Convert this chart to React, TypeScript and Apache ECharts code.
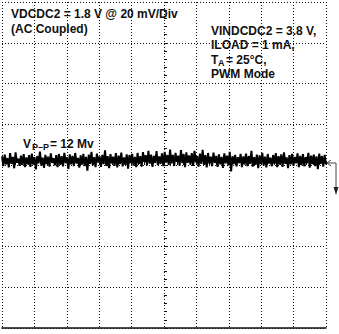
import React, { useEffect, useRef } from "react";
import * as echarts from "echarts";

// Oscilloscope trace: VDCDC2 ripple in mV (AC coupled), 240 samples across 10 divisions
const rippleMv: number[] = [
  4.2, -0.6, 5.1, 0.3, 3.4, -1.2, 5.8, 0.6, 4.0, -1.6, 6.2, 1.1, 3.1, -0.4, 4.6, 0.0, 5.3, -1.0, 3.7, 0.4,
  4.8, -0.9, 5.6, 0.2, 3.9, -2.2, 4.4, 0.8, 6.6, -0.3, 3.6, -1.4, 5.0, 0.5, 4.1, -0.8, 5.7, 1.0, 3.3, -0.2,
  4.9, -1.1, 5.4, 0.1, 4.3, -0.7, 6.0, 0.9, 3.8, -1.9, 5.2, 0.3, 4.5, -0.5, 5.9, 0.7, 3.5, -1.3, 4.7, 0.2,
  5.5, -0.6, 4.0, -2.8, 5.1, 0.6, 6.4, -0.2, 3.9, -1.0, 5.6, 1.2, 4.2, -0.9, 5.0, 0.4, 7.2, -0.5, 4.4, -1.5,
  5.3, 0.8, 4.1, -0.4, 5.8, -1.2, 4.6, 0.5, 6.1, -0.7, 3.7, 0.1, 5.2, -1.8, 4.9, 0.9, 5.5, -0.3, 4.0, -1.1,
  5.9, 0.6, 4.3, -0.8, 6.3, 1.4, 4.8, -0.2, 7.0, 0.7, 5.1, -0.9, 4.5, 1.0, 6.8, -0.1, 4.2, 0.5, 5.7, -0.6,
  6.5, 1.2, 4.9, 0.0, 7.6, 0.8, 5.0, -0.5, 6.0, 1.5, 4.6, -0.3, 7.3, 0.9, 5.4, -1.0, 6.2, 1.1, 4.7, 0.2,
  5.8, -0.4, 6.9, 1.3, 4.4, -0.8, 5.6, 0.6, 7.4, 0.1, 4.8, -1.2, 5.9, 0.7, 4.1, -0.6, 6.1, 1.0, 4.5, -0.9,
  5.2, 0.3, 4.0, -1.4, 5.7, 0.8, 4.6, -0.2, 6.5, -3.2, 4.3, 0.5, 5.0, -0.7, 3.8, 0.9, 5.5, -1.0, 4.2, 0.2,
  5.6, -0.5, 4.4, 0.6, 6.9, -0.8, 3.9, 0.1, 5.1, -1.6, 4.7, 0.4, 6.0, -0.3, 4.1, -1.2, 5.4, 0.7, 3.6, -0.6,
  4.9, 0.5, 5.8, -1.0, 4.3, 0.2, 5.2, -0.9, 6.2, 0.6, 3.7, -1.5, 4.8, 0.3, 5.5, -0.4, 4.0, 0.8, 5.7, -1.1,
  4.5, 0.0, 5.3, -0.7, 3.9, 0.9, 6.0, -1.3, 4.6, 0.4, 5.1, -0.5, 4.2, -2.0, 5.6, 0.6, 4.4, -0.8, 5.0, 0.3,
];

const xDivMin = -5;
const xDivMax = 5;
const yMvMin = -80;
const yMvMax = 80;
const yMvPerDiv = 20;

const titleLines = ["VDCDC2 = 1.8 V @ 20 mV/Div", "(AC Coupled)"];
const condLines = ["VINDCDC2 = 3.8 V,", "ILOAD = 1 mA,"];

const FONT = '"Liberation Sans", Arial, Helvetica, sans-serif';

export default function App() {
  const ref = useRef<HTMLDivElement>(null);

  useEffect(() => {
    document.body.style.margin = "0";
    if (!ref.current) return;
    const chart = echarts.init(ref.current, undefined, { renderer: "svg" });

    const n = rippleMv.length;
    const data = rippleMv.map((v, i) => [xDivMin + ((xDivMax - xDivMin) * i) / (n - 1), v]);

    const dotted = { color: "#111", width: 1, type: [1, 2] as any };
    const txt = (text: string, x: number, y: number, size = 12) => ({
      type: "text",
      x,
      y,
      style: {
        text,
        fill: "#111",
        font: `bold ${size}px ${FONT}`,
        verticalAlign: "top",
      },
    });

    chart.setOption({
      animation: false,
      backgroundColor: "#fff",
      grid: { left: 2, top: 2, width: 324, height: 326, containLabel: false },
      xAxis: [
        {
          type: "value",
          min: xDivMin,
          max: xDivMax,
          interval: 1,
          position: "bottom",
          axisLine: { show: true, onZero: false, lineStyle: { color: "#111", width: 1.5 } },
          axisTick: { show: false },
          axisLabel: { show: false },
          splitLine: { show: true, lineStyle: dotted },
        },
        {
          type: "value",
          min: xDivMin,
          max: xDivMax,
          interval: 1,
          axisLine: { show: false, onZero: true },
          axisTick: { show: true, length: 3, lineStyle: { color: "#111" } },
          minorTick: { show: true, splitNumber: 5, length: 3, lineStyle: { color: "#111" } },
          axisLabel: { show: false },
          splitLine: { show: false },
        },
      ],
      yAxis: [
        {
          type: "value",
          min: yMvMin,
          max: yMvMax,
          interval: yMvPerDiv,
          axisLine: { show: false, onZero: false },
          axisTick: { show: false },
          axisLabel: { show: false },
          splitLine: { show: true, lineStyle: dotted },
        },
        {
          type: "value",
          min: yMvMin,
          max: yMvMax,
          interval: yMvPerDiv,
          axisLine: { show: false, onZero: true },
          axisTick: { show: true, length: 3, lineStyle: { color: "#111" } },
          minorTick: { show: true, splitNumber: 5, length: 3, lineStyle: { color: "#111" } },
          axisLabel: { show: false },
          splitLine: { show: false },
        },
      ],
      series: [
        {
          type: "line",
          data,
          xAxisIndex: 0,
          yAxisIndex: 0,
          showSymbol: false,
          symbol: "none",
          lineStyle: { color: "#000", width: 2 },
          silent: true,
        },
      ],
      graphic: [
        txt(titleLines[0], 11, 8),
        txt(titleLines[1], 11, 23),
        txt(condLines[0], 211, 25),
        txt(condLines[1], 211, 39),
        txt("T", 211, 54),
        txt("A", 218, 58, 9),
        txt("= 25°C,", 226, 54),
        txt("PWM Mode", 211, 68),
        txt("V", 23, 138),
        txt("P–P", 32, 142, 9),
        txt("= 12 Mv", 50, 138),
        {
          type: "polyline",
          shape: { points: [[331, 160], [327, 163], [331, 166]] },
          style: { stroke: "#444", lineWidth: 1, fill: "none" },
        },
        {
          type: "polyline",
          shape: { points: [[328, 163], [336, 163], [336, 188]] },
          style: { stroke: "#444", lineWidth: 1, fill: "none" },
        },
        {
          type: "polygon",
          shape: { points: [[333.5, 187], [338.5, 187], [336, 195]] },
          style: { fill: "#222" },
        },
      ],
    });

    return () => chart.dispose();
  }, []);

  return <div ref={ref} style={{ width: 339, height: 334 }} />;
}
